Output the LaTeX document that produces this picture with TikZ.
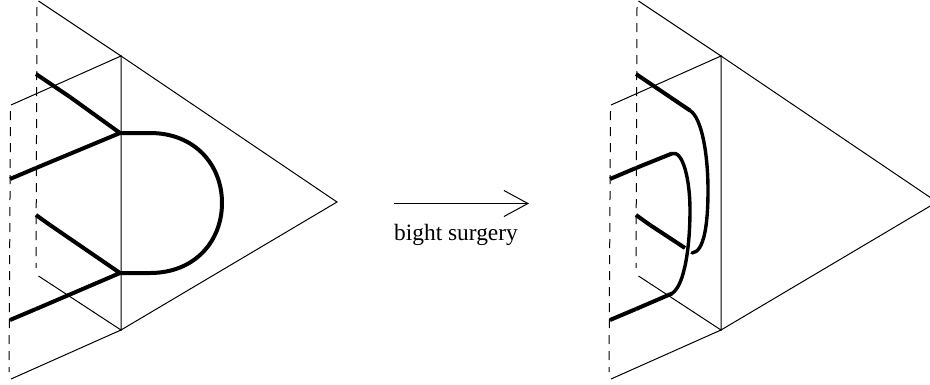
\documentclass[tikz,border=0pt]{standalone}
\usepackage{fontspec}
\setmainfont{Liberation Serif}
\usetikzlibrary{arrows.meta}

\tikzset{
    sheet/.style={line width=1pt},
    hidden/.style={line width=1pt, dash pattern=on 9pt off 7pt},
    band/.style={line width=4pt, line join=round},
    thinband/.style={line width=3.4pt, line cap=round}
}

\begin{document}
\begin{tikzpicture}[x=1pt,y=-1pt]
    % Page
    \path[use as bounding box, clip] (0,0) rectangle (930,384);

    % Wedge, both sides
    \foreach \dx in {0,600} {
        \begin{scope}[xshift=\dx pt]
            \draw[sheet] (38.5,1) -- (121,56) -- (337,202) -- (121,330) -- (11,379);
            \draw[sheet] (11,105) -- (121,56) -- (121,330) -- (38.5,276);
            \draw[hidden] (37,7) -- (36,268);
            \draw[hidden] (10.5,111) -- (9,372);
            % Ends of the bands on the far sides
            \draw[band] (36,74) -- (70,97);
            \draw[band] (10,179) -- (36,168);
            \draw[band] (36,215) -- (50,225);
            \draw[band] (10,320) -- (36,309);
        \end{scope}
    }

    % Before
    \draw[band] (70,97) -- (120,133) -- (36,168);
    \draw[band] (50,225) -- (120,273) -- (36,309);
    \draw[band] (120,133) -- (150,133) .. controls (195,133) and (222,165) .. (222,203)
        .. controls (222,241) and (195,273) .. (150,273) -- (120,273);

    % Middle arrow
    \coordinate (arrowstart) at (394,203.5);
    \coordinate (arrowend) at (529,203.5);
    \draw[sheet, -{Straight Barb[length=24pt,width=26pt]}] (arrowstart) -- (arrowend);
    \node[font=\fontsize{23.4}{27}\selectfont, anchor=base] (surgerylabel) at (456,240) {bight surgery};

    % After
    \draw[band] (670,97) -- (690,110.5);
    \draw[thinband] (690,110.5) .. controls (702,118) and (708,155) .. (708,190)
        .. controls (708,225) and (704,252) .. (692,253);
    \draw[band] (636,168) -- (672,153.5);
    \draw[thinband] (672,153.5) .. controls (683,150) and (690,180) .. (690,210)
        .. controls (690,245) and (685,285) .. (672,293.5);
    \draw[band] (636,309) -- (672,293.5);
    \draw[band] (650,225) -- (685,248);
\end{tikzpicture}
\end{document}
